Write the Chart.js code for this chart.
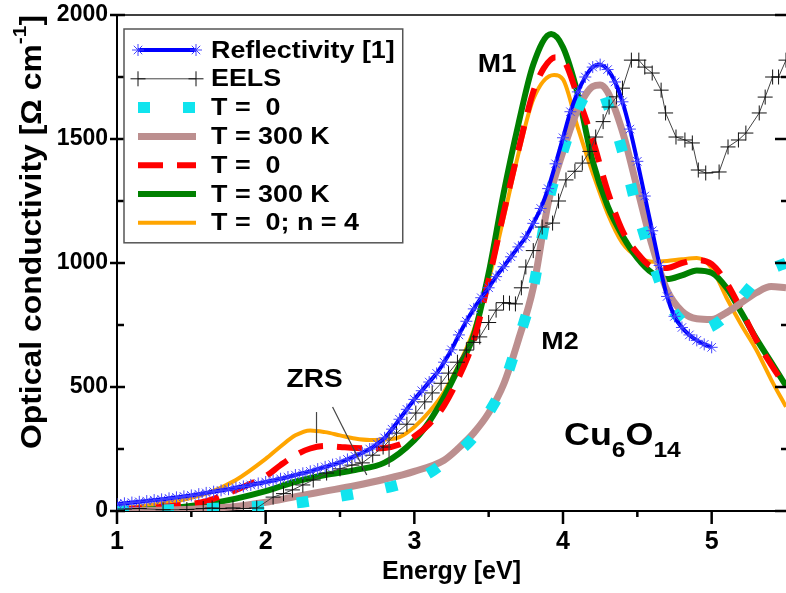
<!DOCTYPE html>
<html>
<head>
<meta charset="utf-8">
<title>Optical conductivity Cu6O14</title>
<script src="https://cdn.jsdelivr.net/npm/chart.js@4.4.0/dist/chart.umd.min.js"></script>
<style>
    html, body { margin: 0; padding: 0; background: #fff; }
    #wrap { width: 786px; height: 593px; position: relative; }
</style>
</head>
<body>
<div id="wrap"><canvas id="conductivityChart"></canvas></div>
<script>
// energy in eV, conductivity in Ohm^-1 cm^-1
const reflE = [1.00, 1.05, 1.10, 1.15, 1.20, 1.25, 1.30, 1.35, 1.40, 1.45, 1.50, 1.55, 1.60, 1.65, 1.70, 1.75,
    1.80, 1.85, 1.90, 1.95, 2.00, 2.05, 2.10, 2.15, 2.20, 2.25, 2.30, 2.35, 2.40, 2.45, 2.50, 2.55, 2.60, 2.65,
    2.70, 2.75, 2.80, 2.85, 2.90, 2.95, 3.00, 3.05, 3.10, 3.15, 3.20, 3.25, 3.30, 3.35, 3.40, 3.45, 3.50, 3.55,
    3.60, 3.65, 3.70, 3.75, 3.80, 3.85, 3.90, 3.95, 4.00, 4.05, 4.10, 4.15, 4.20, 4.25, 4.30, 4.35, 4.40, 4.45,
    4.50, 4.55, 4.60, 4.65, 4.70, 4.75, 4.80, 4.85, 4.90, 4.95, 5.00];
const reflS = [28, 31, 34, 37, 40, 44, 47, 51, 55, 59, 63, 68, 73, 78, 83, 88,
    94, 99, 105, 111, 117, 123, 130, 137, 145, 152, 160, 169, 178, 187, 196, 208, 221, 235,
    250, 270, 295, 330, 370, 410, 450, 485, 520, 555, 600, 650, 710, 765, 815, 860, 900, 945,
    985, 1025, 1065, 1105, 1160, 1220, 1300, 1400, 1505, 1610, 1690, 1750, 1790, 1800, 1780, 1730, 1650, 1540,
    1410, 1270, 1130, 990, 865, 785, 740, 710, 688, 672, 660];

const eelsE = [1.05, 1.15, 1.31, 1.47, 1.58, 1.64, 1.69, 1.78, 1.85, 1.94, 2.05, 2.12, 2.18, 2.25, 2.32, 2.41,
    2.50, 2.58, 2.65, 2.72, 2.79, 2.88, 2.95, 3.01, 3.07, 3.12, 3.18, 3.23, 3.29, 3.35, 3.40, 3.44, 3.50, 3.55,
    3.60, 3.64, 3.68, 3.72, 3.75, 3.80, 3.86, 3.93, 3.97, 4.02, 4.08, 4.13, 4.18, 4.22, 4.27, 4.31, 4.36, 4.40,
    4.46, 4.51, 4.55, 4.60, 4.66, 4.69, 4.76, 4.82, 4.87, 4.91, 4.96, 5.05, 5.11, 5.18, 5.23, 5.32, 5.36, 5.41,
    5.45, 5.50];
const eelsS = [8, 10, 5, 6, 10, 12, 10, 12, 10, 12, 56, 70, 85, 105, 125, 153,
    170, 185, 194, 225, 258, 314, 350, 395, 440, 476, 515, 556, 600, 649, 680, 702, 760, 810,
    840, 838, 835, 900, 984, 1050, 1145, 1161, 1250, 1335, 1370, 1403, 1450, 1508, 1570, 1629, 1670, 1705,
    1818, 1818, 1790, 1766, 1697, 1605, 1508, 1496, 1484, 1375, 1363, 1367, 1468, 1496, 1524, 1605, 1669, 1750,
    1750, 1818];

const cyanE = [1.0, 1.2, 1.4, 1.6, 1.8, 2.0, 2.2, 2.4, 2.6, 2.8, 3.0, 3.1, 3.2, 3.3, 3.4, 3.5, 3.6, 3.7, 3.8,
    3.9, 4.0, 4.1, 4.2, 4.25, 4.3, 4.4, 4.5, 4.6, 4.7, 4.8, 4.9, 5.0, 5.1, 5.2, 5.3, 5.4, 5.5];
const cyanS = [0, 3, 6, 10, 14, 20, 32, 50, 70, 92, 125, 153, 195, 240, 300, 395, 510, 690, 900,
    1240, 1450, 1620, 1705, 1705, 1640, 1450, 1210, 1012, 850, 765, 730, 745, 790, 860, 930, 975, 1000];

const brownE = [1.0, 1.2, 1.4, 1.6, 1.8, 2.0, 2.2, 2.4, 2.6, 2.8, 3.0, 3.2, 3.3, 3.4, 3.5, 3.6, 3.7, 3.8, 3.9,
    4.0, 4.1, 4.2, 4.25, 4.3, 4.4, 4.5, 4.6, 4.7, 4.8, 4.9, 5.0, 5.1, 5.2, 5.3, 5.4, 5.5];
const brownS = [0, 2, 5, 10, 18, 35, 58, 80, 102, 128, 160, 205, 255, 315, 395, 510, 690, 900, 1240,
    1450, 1620, 1712, 1718, 1690, 1530, 1300, 1070, 890, 805, 775, 772, 800, 840, 880, 905, 900];

const redE = [1.0, 1.2, 1.4, 1.6, 1.8, 2.0, 2.1, 2.2, 2.3, 2.4, 2.5, 2.6, 2.7, 2.8, 2.9, 3.0, 3.1, 3.2, 3.3,
    3.4, 3.5, 3.6, 3.7, 3.8, 3.87, 3.95, 4.0, 4.1, 4.2, 4.3, 4.4, 4.5, 4.6, 4.7, 4.8, 4.9, 5.0, 5.1, 5.2,
    5.3, 5.4, 5.5];
const redS = [5, 12, 22, 40, 85, 140, 185, 225, 252, 262, 258, 254, 252, 254, 268, 300, 350, 425, 540,
    690, 930, 1200, 1455, 1690, 1785, 1830, 1820, 1670, 1496, 1290, 1130, 1040, 985, 980, 1000, 1012, 995, 920, 810,
    690, 590, 500];

const greenE = [1.0, 1.2, 1.4, 1.6, 1.8, 2.0, 2.2, 2.4, 2.6, 2.8, 3.0, 3.1, 3.2, 3.3, 3.4, 3.5, 3.6, 3.7, 3.8,
    3.92, 4.0, 4.1, 4.2, 4.3, 4.4, 4.5, 4.6, 4.7, 4.8, 4.9, 5.0, 5.1, 5.2, 5.3, 5.4, 5.5];
const greenS = [2, 6, 14, 28, 50, 80, 118, 145, 165, 195, 286, 360, 460, 580, 710, 960, 1280, 1560, 1800,
    1923, 1870, 1680, 1410, 1230, 1110, 1020, 960, 935, 950, 970, 960, 900, 800, 695, 600, 505];

const orangeE = [1.0, 1.2, 1.4, 1.6, 1.8, 2.0, 2.1, 2.2, 2.3, 2.4, 2.5, 2.6, 2.7, 2.8, 2.9, 3.0, 3.1, 3.2, 3.3,
    3.4, 3.5, 3.6, 3.7, 3.8, 3.94, 4.0, 4.1, 4.2, 4.3, 4.4, 4.5, 4.6, 4.7, 4.8, 4.9, 5.0, 5.1, 5.2, 5.3,
    5.4, 5.5];
const orangeS = [10, 22, 40, 70, 125, 210, 260, 305, 325, 318, 305, 292, 286, 288, 298, 339, 400, 480, 590,
    730, 930, 1180, 1440, 1660, 1758, 1740, 1545, 1363, 1200, 1080, 1025, 1005, 1008, 1015, 1020, 980, 860, 750, 650,
    530, 420];

const xTickValues = [1, 2, 3, 4, 5];

// text labels placed in data units (energy, conductivity)
const labels = [
    { text: 'M1', e: 3.557, s: 1798, size: 25 },
    { text: 'M2', e: 3.98, s: 681, size: 24 },
    { text: 'ZRS', e: 2.329, s: 528, size: 25 }
];
const zrsPointers = [
    [2.342, 399, 2.342, 274],
    [2.45, 419, 2.68, 145],
    [2.83, 314, 2.83, 177]
];

const FONT = 'Arial, "Liberation Sans", sans-serif';
const STRETCH = 1.12;

function pairs(xs, ys) {
    return xs.map((x, i) => ({ x: x, y: ys[i] }));
}

// the original figure uses a slightly wider face, so widen our text a bit
function wideText(ctx, text, x, y, align) {
    const w = ctx.measureText(text).width * STRETCH;
    let x0 = x;
    if (align === 'center') x0 = x - w / 2;
    else if (align === 'right') x0 = x - w;
    ctx.save();
    ctx.translate(x0, y);
    ctx.scale(STRETCH, 1);
    ctx.textAlign = 'left';
    ctx.fillText(text, 0, 0);
    ctx.restore();
    return w;
}

function line(ctx, x1, y1, x2, y2) {
    ctx.beginPath();
    ctx.moveTo(x1, y1);
    ctx.lineTo(x2, y2);
    ctx.stroke();
}

// scales should not push the plot area around, we place it ourselves
function noScalePadding(scale) {
    scale.paddingTop = 0;
    scale.paddingBottom = 0;
    scale.paddingLeft = 0;
    scale.paddingRight = 0;
}

const decorPlugin = {
    id: 'decor',
    afterDatasetsDraw(chart) {
        const { ctx, scales: { x, y } } = chart;
        ctx.save();
        ctx.strokeStyle = '#444';
        ctx.lineWidth = 1.2;
        zrsPointers.forEach(p => {
            line(ctx, x.getPixelForValue(p[0]), y.getPixelForValue(p[1]),
                x.getPixelForValue(p[2]), y.getPixelForValue(p[3]));
        });
        ctx.fillStyle = '#000';
        ctx.textBaseline = 'middle';
        labels.forEach(l => {
            ctx.font = `bold ${l.size}px ${FONT}`;
            wideText(ctx, l.text, x.getPixelForValue(l.e), y.getPixelForValue(l.s), 'center');
        });

        // Cu6O14 with subscripts
        ctx.textBaseline = 'alphabetic';
        let cx = x.getPixelForValue(4.007);
        const cy = y.getPixelForValue(266);
        [['Cu', 32, 0], ['6', 22, 12], ['O', 32, 0], ['14', 22, 12]].forEach(part => {
            ctx.font = `bold ${part[1]}px ${FONT}`;
            cx += wideText(ctx, part[0], cx, cy + part[2], 'left');
        });
        ctx.restore();
    },
    afterDraw(chart) {
        const { ctx, chartArea: a, scales: { x, y } } = chart;
        ctx.save();
        ctx.strokeStyle = '#000';

        // frame top
        ctx.lineWidth = 1.5;
        line(ctx, a.left, a.top, a.right, a.top);

        // x tick marks, majors and minors
        ctx.lineWidth = 2.5;
        for (let v = x.min; v < x.max - 1e-6; v += 0.5) {
            const px = x.getPixelForValue(v);
            const major = Math.abs(v - Math.round(v)) < 1e-6;
            line(ctx, px, a.bottom, px, a.bottom + (major ? 13 : 6));
        }
        // y tick marks on both sides
        for (let v = y.min; v <= y.max + 1e-6; v += 250) {
            const py = y.getPixelForValue(v);
            const major = v % 500 === 0;
            if (major) {
                line(ctx, a.left - 7, py, a.left + 8, py);
                line(ctx, a.right - 11, py, a.right, py);
            } else {
                line(ctx, a.left, py, a.left + 7, py);
                line(ctx, a.right - 5, py, a.right, py);
            }
        }

        // y axis title, drawn here so the superscript can be set
        ctx.fillStyle = '#000';
        ctx.textBaseline = 'alphabetic';
        ctx.translate(41, 232);
        ctx.rotate(-Math.PI / 2);
        const parts = [['Optical conductivity [\u03A9 cm', 29, 0], ['-1', 19, -15], [']', 29, 0]];
        let total = 0;
        parts.forEach(p => {
            ctx.font = `bold ${p[1]}px ${FONT}`;
            total += ctx.measureText(p[0]).width * 1.1;
        });
        let tx = -total / 2;
        parts.forEach(p => {
            ctx.font = `bold ${p[1]}px ${FONT}`;
            const w = ctx.measureText(p[0]).width * 1.1;
            ctx.save();
            ctx.translate(tx, p[2]);
            ctx.scale(1.1, 1);
            ctx.fillText(p[0], 0, 0);
            ctx.restore();
            tx += w;
        });
        ctx.restore();

        drawLegend(chart);
    }
};

function drawLegend(chart) {
    const ctx = chart.ctx;
    const sets = chart.data.datasets;
    const left = 124, top = 29, firstRow = 50, rowH = 28.8;
    const textX = left + 87;
    ctx.save();
    ctx.font = `bold 24px ${FONT}`;
    let maxW = 0;
    sets.forEach(d => { maxW = Math.max(maxW, ctx.measureText(d.label).width * STRETCH); });
    const right = textX + maxW + 8;
    const bottom = firstRow + rowH * (sets.length - 1) + 20;

    ctx.fillStyle = '#fff';
    ctx.fillRect(left, top, right - left, bottom - top);
    ctx.strokeStyle = '#555';
    ctx.lineWidth = 1.5;
    ctx.strokeRect(left, top, right - left, bottom - top);

    sets.forEach((d, i) => {
        const ly = firstRow + i * rowH;
        const x1 = left + 14, x2 = left + 72;
        ctx.save();
        ctx.strokeStyle = d.borderColor;
        ctx.lineWidth = d.borderWidth;
        ctx.lineCap = 'butt';
        ctx.setLineDash(d.borderDash || []);
        line(ctx, x1, ly, x2, ly);
        if (d.pointRadius) {
            ctx.setLineDash([]);
            ctx.strokeStyle = d.pointBorderColor;
            ctx.fillStyle = d.pointBorderColor;
            ctx.lineWidth = d.pointBorderWidth;
            const opts = { pointStyle: d.pointStyle, radius: d.pointRadius, borderWidth: d.pointBorderWidth, rotation: 0 };
            Chart.helpers.drawPoint(ctx, opts, x1, ly);
            Chart.helpers.drawPoint(ctx, opts, x2, ly);
        }
        ctx.restore();
        ctx.fillStyle = '#000';
        ctx.textBaseline = 'middle';
        wideText(ctx, d.label, textX, ly + 1, 'left');
    });
    ctx.restore();
}

const curve = { pointRadius: 0, cubicInterpolationMode: 'monotone', fill: false };

new Chart(document.getElementById('conductivityChart'), {
    type: 'line',
    data: {
        datasets: [
            {
                label: 'Reflectivity [1]',
                data: pairs(reflE, reflS),
                borderColor: '#0000ff',
                borderWidth: 4,
                tension: 0.3,
                pointStyle: 'star',
                pointRadius: 6,
                pointBorderWidth: 1,
                pointBorderColor: '#4444ff',
                pointBackgroundColor: '#4444ff'
            },
            {
                label: 'EELS',
                data: pairs(eelsE, eelsS),
                borderColor: '#444',
                borderWidth: 1,
                tension: 0,
                pointStyle: 'cross',
                pointRadius: 7.5,
                pointBorderWidth: 1,
                pointBorderColor: '#111',
                pointBackgroundColor: '#111'
            },
            { ...curve, label: 'T =  0', data: pairs(cyanE, cyanS), borderColor: '#10e4ee', borderWidth: 11, borderDash: [12, 33] },
            { ...curve, label: 'T = 300 K', data: pairs(brownE, brownS), borderColor: '#bc8f8f', borderWidth: 7 },
            { ...curve, label: 'T =  0', data: pairs(redE, redS), borderColor: '#ff0000', borderWidth: 6, borderDash: [25, 14] },
            { ...curve, label: 'T = 300 K', data: pairs(greenE, greenS), borderColor: '#008000', borderWidth: 6 },
            { ...curve, label: 'T =  0; n = 4', data: pairs(orangeE, orangeS), borderColor: '#ffa500', borderWidth: 4 }
        ]
    },
    options: {
        responsive: true,
        maintainAspectRatio: false,
        animation: false,
        devicePixelRatio: 1,
        layout: { autoPadding: false, padding: { top: 15, right: 0, bottom: 0, left: 0 } },
        plugins: {
            legend: { display: false },
            tooltip: { enabled: false }
        },
        scales: {
            x: {
                type: 'linear',
                min: 1,
                max: 5.5,
                afterFit: scale => { scale.height = 82; noScalePadding(scale); },
                afterBuildTicks: scale => { scale.ticks = xTickValues.map(v => ({ value: v })); },
                border: { display: true, color: '#000', width: 2 },
                grid: { drawOnChartArea: false, drawTicks: false },
                ticks: {
                    padding: 16,
                    color: '#000',
                    font: { family: FONT, size: 25, weight: 'bold' },
                    callback: v => String(v)
                },
                title: {
                    display: true,
                    text: 'Energy [eV]',
                    color: '#000',
                    font: { family: FONT, size: 25, weight: 'bold' },
                    padding: { top: 0, bottom: 6 }
                }
            },
            y: {
                min: 0,
                max: 2000,
                afterFit: scale => { scale.width = 117; noScalePadding(scale); },
                border: { display: true, color: '#000', width: 2 },
                grid: { drawOnChartArea: false, drawTicks: false },
                ticks: {
                    stepSize: 500,
                    padding: 9,
                    color: '#000',
                    font: { family: FONT, size: 23, weight: 'bold' },
                    callback: v => String(v)
                }
            }
        }
    },
    plugins: [decorPlugin]
});
</script>
</body>
</html>
